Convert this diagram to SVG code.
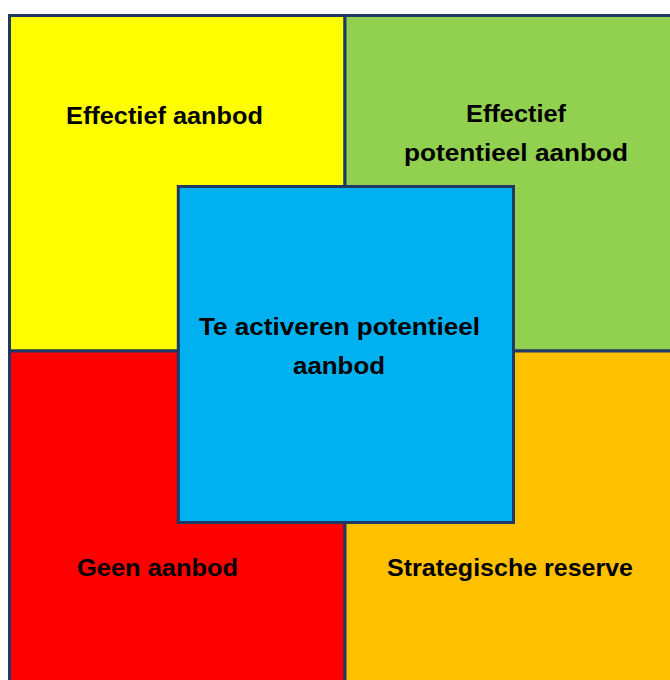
<svg xmlns="http://www.w3.org/2000/svg" width="670" height="680" viewBox="0 0 670 680">
<style>
.q{stroke:#1F3864;stroke-width:3}
.t{font-family:"Liberation Sans",Arial,sans-serif;font-weight:bold;font-size:24px;fill:#000;text-anchor:middle}
</style>
<rect x="0" y="0" width="670" height="680" fill="#fff"/>
<g id="effectief-aanbod">
<rect class="q" x="9.5" y="15.5" width="335.5" height="335.5" fill="#FFFF00"/>
<text class="t" x="164.5" y="124" textLength="197" lengthAdjust="spacingAndGlyphs">Effectief aanbod</text>
</g>
<g id="effectief-potentieel-aanbod">
<rect class="q" x="345" y="15.5" width="330" height="335.5" fill="#92D050"/>
<text class="t" x="516" y="122" textLength="100" lengthAdjust="spacingAndGlyphs">Effectief</text>
<text class="t" x="516" y="161" textLength="224" lengthAdjust="spacingAndGlyphs">potentieel aanbod</text>
</g>
<g id="geen-aanbod">
<rect class="q" x="9.5" y="351" width="335.5" height="335" fill="#FF0000"/>
<text class="t" x="157.5" y="576" textLength="161" lengthAdjust="spacingAndGlyphs">Geen aanbod</text>
</g>
<g id="strategische-reserve">
<rect class="q" x="345" y="351" width="330" height="335" fill="#FFC000"/>
<text class="t" x="510" y="576" textLength="246" lengthAdjust="spacingAndGlyphs">Strategische reserve</text>
</g>
<g id="te-activeren-potentieel-aanbod">
<rect class="q" x="178.3" y="186.5" width="335.2" height="336" fill="#00B0F0"/>
<text class="t" x="339.5" y="335" textLength="281" lengthAdjust="spacingAndGlyphs">Te activeren potentieel</text>
<text class="t" x="339" y="374" textLength="92" lengthAdjust="spacingAndGlyphs">aanbod</text>
</g>
<g id="connectors"/>
</svg>
